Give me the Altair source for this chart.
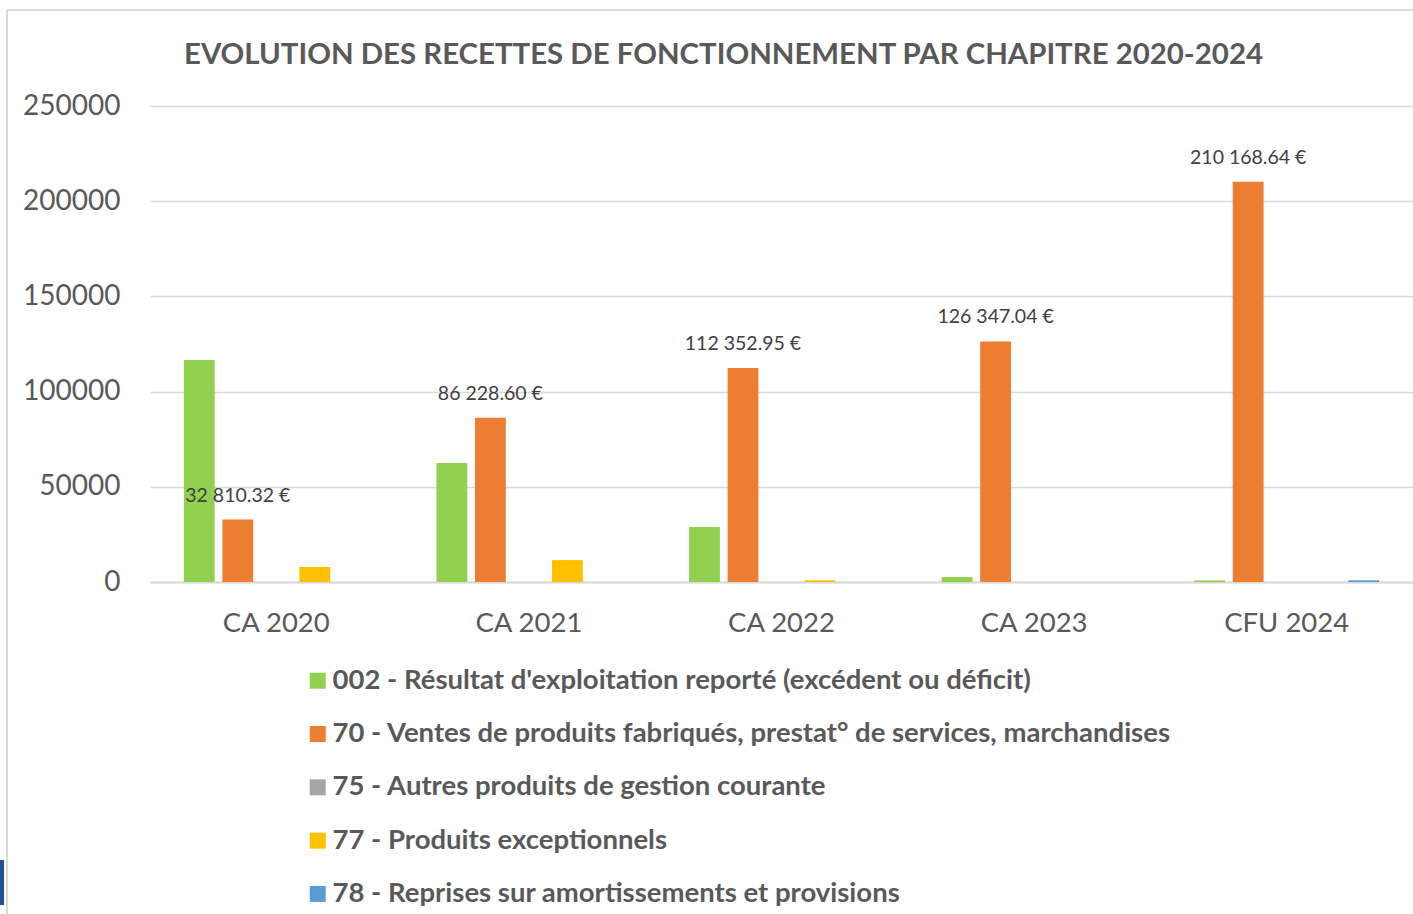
import altair as alt
import pandas as pd

categories = ["CA 2020", "CA 2021", "CA 2022", "CA 2023", "CFU 2024"]
series = [
    "002 - Résultat d'exploitation reporté (excédent ou déficit)",
    "70 - Ventes de produits fabriqués, prestat° de services, marchandises",
    "75 - Autres produits de gestion courante",
    "77 - Produits exceptionnels",
    "78 - Reprises sur amortissements et provisions",
]
colors = ["#92d050", "#ed7d31", "#a5a5a5", "#ffc000", "#5b9bd5"]

v002 = [116600, 62500, 28900, 2600, 800]
v70 = [32810.32, 86228.60, 112352.95, 126347.04, 210168.64]
v75 = [0, 0, 0, 0, 0]
v77 = [7900, 11500, 900, 0, 0]
v78 = [0, 0, 0, 0, 900]

values = [v002, v70, v75, v77, v78]

rows = []
for s, vals in zip(series, values):
    for c, v in zip(categories, vals):
        lab = ""
        if s == series[1]:
            lab = f"{v:,.2f}".replace(",", " ") + " €"
        rows.append({"cat": c, "serie": s, "val": v, "label": lab})
df = pd.DataFrame(rows)

FONT = "Lato"
x = alt.X("cat:N", sort=categories, axis=alt.Axis(
    title=None, labelFontSize=27.5, labelColor="#595959", labelFont=FONT,
    ticks=False, labelPadding=27, domainColor="#d9d9d9", domainWidth=2, labelAngle=0),
    scale=alt.Scale(paddingInner=0, paddingOuter=0))
xo = alt.XOffset("serie:N", sort=series,
                 scale=alt.Scale(paddingInner=0.2, paddingOuter=0.88))
yscale = alt.Scale(domain=[0, 250000], nice=False)

bars = alt.Chart(df).mark_bar().encode(
    x=x, xOffset=xo,
    y=alt.Y("val:Q", scale=yscale, axis=alt.Axis(
        title=None, values=[0, 50000, 100000, 150000, 200000, 250000], format="d",
        labelFontSize=28, labelColor="#595959", labelFont=FONT, ticks=False,
        domain=False, labelPadding=30, gridColor="#d9d9d9", gridWidth=1.5)),
    color=alt.Color("serie:N", sort=series, scale=alt.Scale(domain=series, range=colors),
                    legend=alt.Legend(title=None, orient="none", legendX=154, legendY=561,
                                      direction="vertical", symbolType="square", symbolSize=256,
                                      labelFontSize=27.5, labelFont=FONT, labelFontWeight="bold",
                                      labelColor="#595959", rowPadding=24.3, labelLimit=1200,
                                      symbolStrokeWidth=0, labelOffset=1)),
)

text = alt.Chart(df[df["label"] != ""]).mark_text(
    baseline="middle", dy=-24, fontSize=19.5, color="#404040", font=FONT).encode(
    x=x, xOffset=xo, y=alt.Y("val:Q", scale=yscale), text="label:N")

one = pd.DataFrame({"a": [0]})
frame_v = alt.Chart(one).mark_rule(color="#d9d9d9", strokeWidth=2).encode(
    x=alt.value(-143), y=alt.value(-96), y2=alt.value(808))
frame_h = alt.Chart(one).mark_rule(color="#d9d9d9", strokeWidth=2).encode(
    x=alt.value(-143), x2=alt.value(1263), y=alt.value(-96))
stripe = alt.Chart(one).mark_rect(color="#1f4e9a").encode(
    x=alt.value(-150), x2=alt.value(-146), y=alt.value(754), y2=alt.value(799))

chart = alt.layer(frame_v, frame_h, stripe, bars, text).properties(
    width=1263, height=476,
    title=alt.TitleParams("EVOLUTION DES RECETTES DE FONCTIONNEMENT PAR CHAPITRE 2020-2024",
                          fontSize=29.4, font=FONT, fontWeight="bold", color="#595959",
                          anchor="middle", dx=-58, dy=97, offset=36),
    autosize=alt.AutoSizeParams(type="none"),
    padding={"left": 150, "top": 106, "right": 0, "bottom": 332},
).configure_view(stroke=None)

chart.save("out.html", embed_options={"renderer": "svg", "actions": False})
